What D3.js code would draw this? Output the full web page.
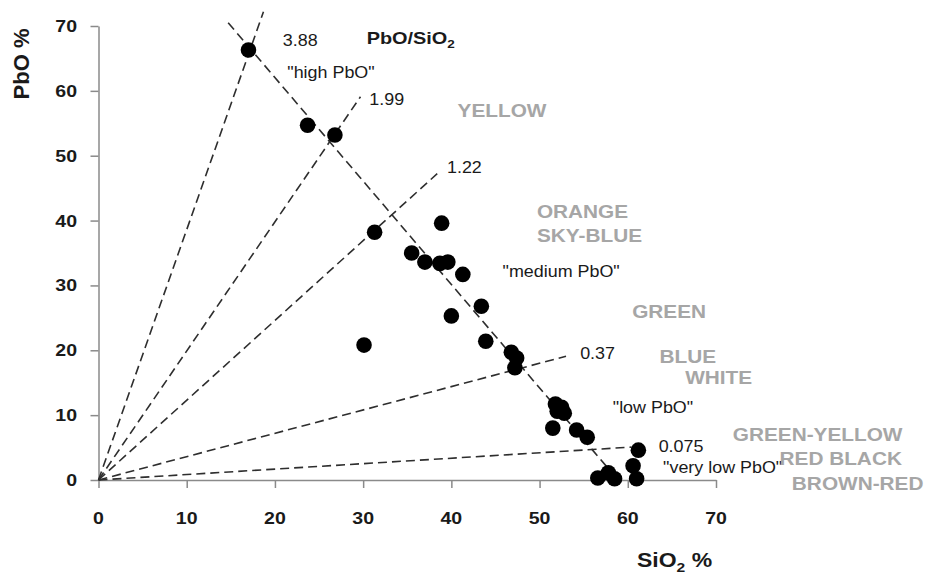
<!DOCTYPE html>
<html><head><meta charset="utf-8">
<script src="https://cdn.jsdelivr.net/npm/d3@7"></script>
<style>
body{margin:0;background:#fff;}
svg{display:block;font-family:"Liberation Sans",Arial,sans-serif;}
</style></head>
<body><svg id="c" width="927" height="575"></svg>
<script>
// ---- data ----
const sio2 = [17.0, 23.7, 26.8, 31.3, 38.9, 35.5, 37.0, 38.7, 39.6, 41.3, 43.4, 40.0, 43.9, 30.1, 46.8, 47.4, 47.2, 51.8, 52.5, 52.8, 52.0, 51.5, 54.2, 55.4, 61.2, 60.6, 61.0, 56.6, 57.8, 58.5];
const pbo  = [66.3, 54.7, 53.2, 38.2, 39.6, 35.0, 33.6, 33.4, 33.6, 31.7, 26.8, 25.3, 21.4, 20.8, 19.7, 18.8, 17.3, 11.7, 11.2, 10.3, 10.6, 8.0, 7.7, 6.6, 4.6, 2.2, 0.2, 0.3, 1.1, 0.2];
const ratioLabels = ["3.88", "1.99", "1.22", "0.37", "0.075"];
const ratioSlopes = [3.86, 1.99, 1.23, 0.36, 0.084];
const ratioEndX   = [18.7, 29.7, 38.4, 53.0, 60.4];
const trendX = [14.7, 58.9];
const trendY = [70.5, 0];
const xTicks = [0, 10, 20, 30, 40, 50, 60, 70];
const yTicks = [0, 10, 20, 30, 40, 50, 60, 70];
const ratioTextPos = [[20.9, 66.9], [30.7, 57.8], [39.5, 47.3], [54.6, 18.7], [63.5, 4.3]];
const classLabels = ['"high PbO"', '"medium PbO"', '"low PbO"', '"very low PbO"'];
const classPos = [[21.4, 62.0], [45.8, 31.3], [58.3, 10.3], [64.0, 1.1]];
const colourLabels = ["YELLOW", "ORANGE", "SKY-BLUE", "GREEN", "BLUE", "WHITE", "GREEN-YELLOW", "RED BLACK", "BROWN-RED"];
const colourPos = [[40.7, 56.0], [49.7, 40.4], [49.7, 36.7], [60.5, 25.0], [63.6, 18.0], [66.5, 14.8], [71.9, 6.0], [77.2, 2.3], [78.6, -1.5]];

// ---- chart ----
const svg = d3.select("#c");
const x = d3.scaleLinear().domain([0, 70]).range([98.5, 716]);
const y = d3.scaleLinear().domain([0, 70]).range([480, 26]);
const SX = 1.15;
const axisCol = "#8a8a8a";

function txt(g, s, px, py, opts) {
  const t = g.append("text")
    .attr("transform", `translate(${px},${py}) scale(${opts.sx || SX},1)`)
    .attr("font-size", opts.size)
    .attr("font-weight", opts.weight || "normal")
    .attr("fill", opts.fill || "#1a1a1a")
    .attr("text-anchor", opts.anchor || "start");
  if (opts.sub) {
    t.append("tspan").text(s);
    t.append("tspan").attr("font-size", opts.size * 0.68).attr("dy", opts.size * 0.25).text(opts.sub);
    if (opts.after) t.append("tspan").attr("dy", -opts.size * 0.25).text(opts.after);
  } else t.text(s);
  return t;
}

// axes
const xAxis = svg.append("g").attr("transform", `translate(0,${y(0)})`)
  .call(d3.axisBottom(x).tickValues(xTicks).tickSize(8).tickSizeOuter(0).tickFormat(""));
const yAxis = svg.append("g").attr("transform", `translate(${x(0)},0)`)
  .call(d3.axisLeft(y).tickValues(yTicks).tickSize(8).tickSizeOuter(0).tickFormat(""));
[xAxis, yAxis].forEach(a => {
  a.select(".domain").attr("stroke", axisCol).attr("stroke-width", 1.5);
  a.selectAll(".tick line").attr("stroke", axisCol).attr("stroke-width", 1.5);
});
const tl = svg.append("g");
xTicks.forEach(v => txt(tl, String(v), x(v), 524, {size: 17, weight: "bold", anchor: "middle"}));
yTicks.forEach(v => txt(tl, String(v), 77, y(v) + 6, {size: 17, weight: "bold", anchor: "end"}));

// axis titles
txt(svg, "SiO", 637, 567, {size: 20, weight: "bold", sub: "2", after: " %"});
svg.append("text").attr("transform", "translate(29,64) rotate(-90)")
  .attr("text-anchor", "middle").attr("font-size", 22).attr("font-weight", "bold")
  .attr("fill", "#1a1a1a").text("PbO %");

// dashed lines
const lines = svg.append("g").attr("fill", "none").attr("stroke", "#2e2e2e")
  .attr("stroke-width", 1.6).attr("stroke-dasharray", "9,5");
ratioSlopes.forEach((m, i) => {
  lines.append("line").attr("x1", x(0)).attr("y1", y(0))
    .attr("x2", x(ratioEndX[i])).attr("y2", y(m * ratioEndX[i]));
});
lines.append("line").attr("x1", x(trendX[0])).attr("y1", y(trendY[0]))
  .attr("x2", x(trendX[1])).attr("y2", y(trendY[1]));

// points
svg.append("g").selectAll("circle").data(sio2).join("circle")
  .attr("cx", d => x(d)).attr("cy", (d, i) => y(pbo[i])).attr("r", 7.8).attr("fill", "#000");

// annotations
const an = svg.append("g");
ratioLabels.forEach((s, i) => txt(an, s, x(ratioTextPos[i][0]), y(ratioTextPos[i][1]), {size: 16, sx: 1.12}));
classLabels.forEach((s, i) => txt(an, s, x(classPos[i][0]), y(classPos[i][1]), {size: 16, sx: 1.12}));
colourLabels.forEach((s, i) => txt(an, s, x(colourPos[i][0]), y(colourPos[i][1]), {size: 18, weight: "bold", fill: "#a6a6a6", sx: 1.155}));
txt(an, "PbO/SiO", x(30.4), y(67.2), {size: 17, weight: "bold", sub: "2", sx: 1.17});
</script></body></html>
